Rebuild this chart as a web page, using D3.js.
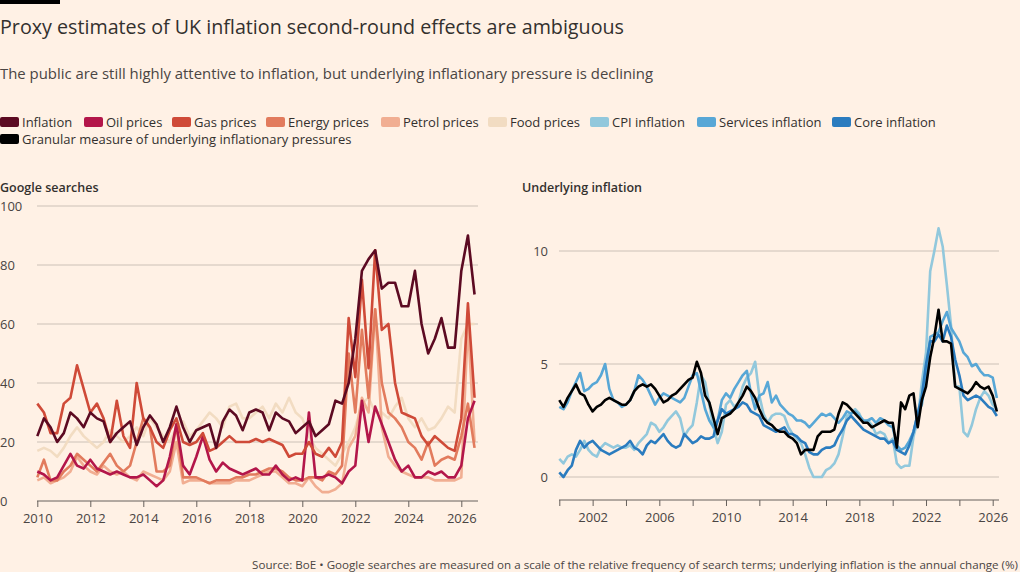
<!DOCTYPE html>
<html><head><meta charset="utf-8">
<script src="https://cdn.jsdelivr.net/npm/d3@7.9.0/dist/d3.min.js"></script>
<style>
body{margin:0;background:#fff1e5;font-family:"Open Sans",sans-serif;}
svg{display:block}
</style></head><body>
<svg id="chart" width="1020" height="572"></svg>
<script>
// Left panel: quarterly Google search indices, 2010 Q1 onwards
const searchStart = 2010;
const inflation = [22,28,25,20, 23,30,28,25, 30,28,27,20, 23,25,27,19, 25,29,26,20, 25,32,25,20, 24,25,26,18, 27,31,29,24, 30,31,30,24, 30,28,27,23, 25,27,22,24, 26,34,33,40, 55,78,82,85, 72,74,74,66, 66,78,60,50, 55,62,52,52, 78,90,70];
const oil = [10,9,7,8, 12,16,12,11, 14,11,10,9, 10,9,8,8, 9,7,5,7, 15,26,12,9, 15,22,14,10, 13,11,10,9, 10,11,9,9, 12,9,7,8, 7,30,8,8, 9,8,6,10, 12,34,20,32, 26,20,14,10, 12,8,8,10, 9,10,8,8, 12,28,34];
const gas = [33,30,23,23, 33,35,46,38, 30,33,28,20, 34,22,18,40, 28,25,20,18, 24,28,20,19, 20,23,17,18, 20,22,20,20, 20,21,20,21, 20,19,15,16, 16,20,16,15, 18,15,20,62, 42,75,45,85, 58,60,40,30, 29,28,22,19, 22,20,18,17, 28,67,35];
const energy = [8,14,7,7, 10,12,16,14, 12,10,13,16, 12,10,12,20, 28,25,10,10, 12,26,8,8, 8,7,6,7, 7,7,8,8, 9,9,10,11, 11,10,8,7, 7,8,8,7, 10,9,12,50, 30,58,35,65, 40,30,28,25, 20,18,14,20, 12,14,15,14, 22,33,18];
const petrol = [7,8,6,7, 8,10,15,12, 10,9,12,10, 9,10,8,7, 10,9,8,7, 10,20,6,7, 7,7,6,6, 6,6,7,7, 7,8,9,10, 10,8,6,6, 5,8,5,3, 3,4,6,18, 22,35,30,65, 25,15,12,10, 9,8,8,8, 7,7,7,7, 8,60,20];
const food = [17,18,17,15, 18,22,25,22, 20,18,20,24, 22,20,22,25, 22,28,25,22, 20,25,27,22, 24,27,30,28, 25,32,33,28, 28,30,32,28, 33,30,35,30, 28,22,18,16, 14,12,16,20, 25,33,35,30, 30,28,32,35, 28,25,28,24, 25,28,32,30, 55,60,60];

// Right panel: quarterly annual change (%), 2000 Q1 onwards
const inflStart = 2000;
const cpi = [0.8,0.6,0.9,1.0, 0.9,1.2,1.6,1.2, 1.0,0.9,1.3,1.5, 1.4,1.3,1.4,1.3, 1.3,1.4,1.2,1.5, 1.7,1.9,2.4,2.3, 2.0,2.2,2.5,2.7, 2.9,2.6,1.8,2.1, 2.3,3.3,4.5,4.2, 3.2,2.2,1.5,2.0, 3.2,3.4,3.1,3.3, 4.0,4.4,4.6,5.1, 3.6,2.8,2.4,2.7, 2.8,2.8,2.7,2.2, 1.9,1.7,1.5,1.0, 0.4,0.0,0.0,0.0, 0.3,0.4,0.6,1.0, 1.8,2.7,2.8,3.0, 2.8,2.4,2.5,2.3, 1.9,2.0,1.9,1.5, 1.7,0.6,0.4,0.5, 0.5,1.8,2.5,4.2, 5.5,9.1,10.0,11.0, 10.2,8.5,6.7,4.0, 4.0,2.0,1.8,2.3, 3.0,3.5,3.8,3.6, 3.2,3.0];
const services = [3.1,3.0,3.3,3.8, 4.2,4.6,3.8,3.9, 4.1,4.2,4.5,5.0, 3.9,3.4,3.3,3.1, 3.2,3.4,3.8,4.5, 4.3,4.0,3.6,3.2, 3.5,3.7,3.6,3.5, 3.4,3.3,3.5,4.0, 4.5,4.6,3.8,3.0, 2.5,2.2,2.5,3.4, 3.7,3.5,3.9,4.2, 4.5,4.7,3.7,3.0, 3.6,3.7,4.2,3.3, 3.6,3.2,3.0,2.8, 2.7,2.5,2.5,2.4, 2.2,2.4,2.6,2.8, 2.7,2.8,2.6,2.4, 2.6,2.9,2.8,2.9, 2.7,2.5,2.5,2.6, 2.4,2.6,2.5,2.3, 2.2,1.4,1.2,1.3, 1.6,2.0,2.8,3.2, 4.6,6.2,6.3,6.4, 6.9,7.3,6.6,6.3, 6.0,5.5,5.3,4.9, 5.0,4.7,4.5,4.5, 4.4,3.5];
const core = [0.2,0.0,0.3,0.5, 1.2,1.6,1.3,1.5, 1.6,1.4,1.2,1.1, 1.0,1.1,1.2,1.3, 1.4,1.6,1.3,1.2, 1.0,1.4,1.6,1.5, 1.7,1.9,1.6,1.4, 1.3,1.4,1.9,1.7, 1.5,1.6,1.8,1.7, 1.7,1.8,2.5,3.0, 2.8,2.9,3.0,3.1, 3.3,3.2,2.9,2.8, 2.7,2.3,2.2,2.1, 2.0,2.1,2.2,1.9, 1.9,1.8,1.6,1.5, 1.1,1.0,1.0,1.2, 1.3,1.3,1.4,1.8, 2.1,2.5,2.7,2.5, 2.3,2.1,2.0,1.9, 1.8,1.7,1.7,1.5, 1.6,1.2,1.1,1.0, 1.4,2.0,2.8,3.6, 5.0,6.0,6.0,6.3, 6.0,6.7,6.2,5.2, 4.5,3.6,3.4,3.5, 3.6,3.5,3.3,3.1, 3.0,2.7];
const granular = [3.4,3.1,3.5,3.8, 4.1,3.7,3.6,3.2, 2.9,3.1,3.2,3.4, 3.5,3.4,3.3,3.2, 3.2,3.4,3.8,4.0, 4.1,4.0,4.1,3.9, 3.6,3.3,3.4,3.6, 3.7,3.9,4.1,4.3, 4.4,5.1,4.6,3.6, 3.3,2.6,1.9,2.6, 2.7,2.8,3.0,3.3, 3.6,4.0,3.8,3.5, 3.0,2.6,2.4,2.3, 2.1,2.0,2.0,1.8, 1.7,1.5,1.0,1.2, 1.2,1.2,1.8,2.0, 2.0,2.0,2.1,2.8, 3.3,3.2,3.0,2.8, 2.6,2.4,2.4,2.2, 2.3,2.4,2.5,2.4, 2.4,1.3,3.3,3.0, 3.6,3.7,2.2,3.4, 4.0,5.3,6.2,7.4, 6.0,6.0,5.9,4.0, 3.9,3.8,3.7,3.9, 4.2,4.0,3.9,4.0, 3.6,2.9];

const leftTicks = [2010,2012,2014,2016,2018,2020,2022,2024,2026];
const rightTicks = d3.range(2000, 2027, 2);
const rightLabels = [2002,2006,2010,2014,2018,2022,2026];

const legendItems = [
  ["Inflation","#5c0a22"],["Oil prices","#b3164a"],["Gas prices","#cf4a38"],
  ["Energy prices","#e27b5d"],["Petrol prices","#f1ae92"],["Food prices","#f2dcc2"],
  ["CPI inflation","#92c8dc"],["Services inflation","#58a7d6"],["Core inflation","#2b7cbf"]
];

const svg = d3.select("#chart");
const ink = "#33302e", grid = "#ccc1b7";

svg.append("rect").attr("x",0).attr("y",0).attr("width",60).attr("height",4).attr("fill","#000");
svg.append("text").attr("x",0).attr("y",34).attr("font-size",19.7).attr("fill",ink)
  .text("Proxy estimates of UK inflation second-round effects are ambiguous");
svg.append("text").attr("x",0).attr("y",79).attr("font-size",14.9).attr("fill","#4a4543")
  .text("The public are still highly attentive to inflation, but underlying inflationary pressure is declining");

// legend
const legendX = [0,84,172,266,381,488,590,697,832];
legendItems.forEach(([name,c],i)=>{
  const g = svg.append("g").attr("transform",`translate(${legendX[i]},122)`);
  g.append("rect").attr("x",0).attr("y",-5).attr("width",19).attr("height",10).attr("rx",2).attr("fill",c);
  g.append("text").attr("x",22).attr("y",5).attr("font-size",13).attr("fill",ink).text(name);
});
{
  const g = svg.append("g").attr("transform","translate(0,139)");
  g.append("rect").attr("x",0).attr("y",-5).attr("width",19).attr("height",10).attr("rx",2).attr("fill","#000");
  g.append("text").attr("x",22).attr("y",5).attr("font-size",13).attr("fill",ink).text("Granular measure of underlying inflationary pressures");
}

// panel titles
svg.append("text").attr("x",0).attr("y",192).attr("font-size",12.5).attr("font-weight",600).attr("fill",ink).text("Google searches");
svg.append("text").attr("x",522).attr("y",192).attr("font-size",12.5).attr("font-weight",600).attr("fill",ink).text("Underlying inflation");

function series(start, vals){ return vals.map((v,i)=>[start + i/4, v]); }

// ---- left panel
const xL = d3.scaleLinear().domain([2010,2026]).range([37.3,461.3]);
const yL = d3.scaleLinear().domain([0,100]).range([501,206]);
const gL = svg.append("g");
[0,20,40,60,80,100].forEach(v=>{
  if(v>0) gL.append("line").attr("x1",37).attr("x2",478).attr("y1",yL(v)).attr("y2",yL(v)).attr("stroke",grid);
  gL.append("text").attr("x",0).attr("y",yL(v)+5).attr("font-size",13).attr("fill","#4a4543").text(v);
});
gL.append("g").attr("transform","translate(0,501)")
  .call(d3.axisBottom(xL).tickValues(leftTicks).tickFormat(d3.format("d")).tickSize(6))
  .call(a=>{a.select(".domain").attr("stroke","#66605c").attr("d","M37,0H478");
    a.selectAll("line").attr("stroke","#66605c");
    a.selectAll("text").attr("font-size",13).attr("fill","#4a4543").attr("font-family","Open Sans").attr("dy","1em");});
const lineL = d3.line().x(d=>xL(d[0])).y(d=>yL(d[1]));
[[food,5],[petrol,4],[energy,3],[oil,1],[gas,2],[inflation,0]].forEach(([vals,ci])=>{
  gL.append("path").attr("d",lineL(series(searchStart,vals))).attr("fill","none")
    .attr("stroke",legendItems[ci][1]).attr("stroke-width",2.6).attr("stroke-linejoin","round");
});

// ---- right panel
const xR = d3.scaleLinear().domain([2000,2026]).range([559.3,992.7]);
const yR = d3.scaleLinear().domain([0,10]).range([477,251]);
const gR = svg.append("g");
[0,5,10].forEach(v=>{
  gR.append("line").attr("x1",559).attr("x2",999).attr("y1",yR(v)).attr("y2",yR(v)).attr("stroke",grid);
  gR.append("text").attr("x",548).attr("y",yR(v)+5).attr("text-anchor","end").attr("font-size",13).attr("fill","#4a4543").text(v);
});
gR.append("g").attr("transform","translate(0,500)")
  .call(d3.axisBottom(xR).tickValues(rightTicks).tickFormat(d=>rightLabels.includes(d)?d:"").tickSize(6))
  .call(a=>{a.select(".domain").attr("stroke","#66605c").attr("d","M559,0H999");
    a.selectAll("line").attr("stroke","#66605c");
    a.selectAll("text").attr("font-size",13).attr("fill","#4a4543").attr("font-family","Open Sans").attr("dy","1em");});
const lineR = d3.line().x(d=>xR(d[0])).y(d=>yR(d[1]));
[[cpi,6],[services,7],[core,8]].forEach(([vals,ci])=>{
  gR.append("path").attr("d",lineR(series(inflStart,vals))).attr("fill","none")
    .attr("stroke",legendItems[ci][1]).attr("stroke-width",2.6).attr("stroke-linejoin","round");
});
gR.append("path").attr("d",lineR(series(inflStart,granular))).attr("fill","none")
  .attr("stroke","#000").attr("stroke-width",2.6).attr("stroke-linejoin","round");

svg.append("text").attr("x",1018).attr("y",569).attr("text-anchor","end").attr("font-size",11.6).attr("fill","#4a4543")
  .text("Source: BoE \u2022 Google searches are measured on a scale of the relative frequency of search terms; underlying inflation is the annual change (%)");
</script></body></html>
